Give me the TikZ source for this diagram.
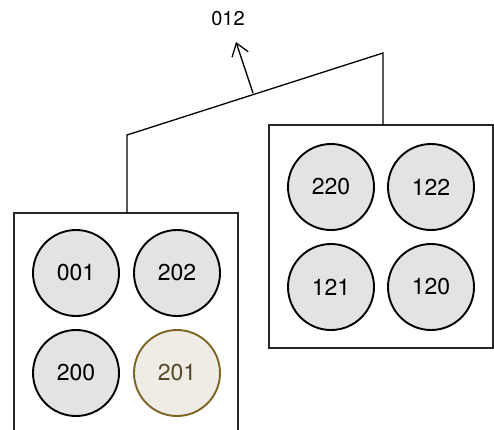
\documentclass[tikz,border=0pt]{standalone}
\usepackage{fontspec}
\setmainfont{TeX Gyre Heros}
\usetikzlibrary{arrows.meta}
\definecolor{cfill}{HTML}{E3E3E5}
\definecolor{gfill}{HTML}{EEECE4}
\definecolor{gline}{HTML}{7D6424}
\definecolor{gtext}{HTML}{55472A}
\begin{document}
\begin{tikzpicture}[x=1pt,y=-1pt,
  cell/.style={circle,draw=black,line width=1.9pt,fill=cfill,minimum size=86pt,inner sep=0pt,font=\fontsize{23}{23}\selectfont},
  goldcell/.style={cell,draw=gline,fill=gfill,text=gtext},
  boxline/.style={line width=1.1pt,draw=black!85},
  conn/.style={line width=1.3pt}]
\useasboundingbox (0,0) rectangle (494,429);
% boxes
\draw[boxline] (14,432) -- (14,213) -- (238,213) -- (238,432);
\draw[boxline] (269,125) rectangle (493,348);
% cells left
\node[cell] (c001) at (76,273) {001};
\node[cell] (c202) at (177,273) {202};
\node[cell] (c200) at (76,373) {200};
\node[goldcell] (c201) at (177,373) {201};
% cells right
\node[cell] (c220) at (331,187) {220};
\node[cell] (c122) at (431,187) {122};
\node[cell] (c121) at (331,287) {121};
\node[cell] (c120) at (431,287) {120};
% connector
\coordinate (lt) at (127,213);
\coordinate (lc) at (127,135);
\coordinate (rc) at (383,53);
\coordinate (rt) at (383,125);
\coordinate (mid) at (253,93);
\node[font=\fontsize{20}{20}\selectfont] (lab) at (228,19) {012};
\coordinate (tip) at (236,42);
\draw[conn,line join=miter] (lt) -- (lc) -- (rc) -- (rt);
\draw[conn,-{Straight Barb[length=12pt,width=17pt,line width=1.3pt]}] (mid) -- (tip);
\end{tikzpicture}
\end{document}
